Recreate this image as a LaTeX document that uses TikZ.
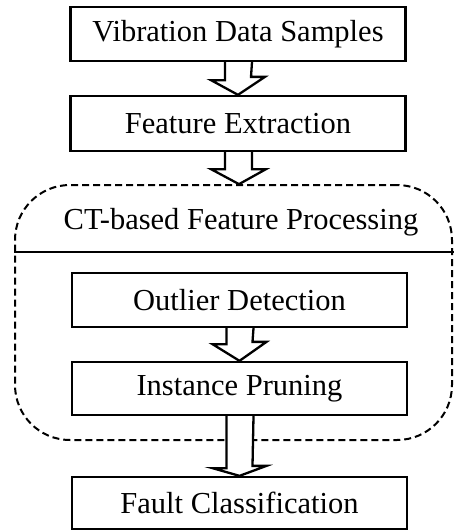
\documentclass[tikz,border=0pt]{standalone}
\usepackage{fontspec}
\setmainfont{Liberation Serif}
\usetikzlibrary{calc}
\begin{document}
\begin{tikzpicture}[x=1pt,y=-1pt,
  stepbox/.style={draw, line width=2.3pt, minimum width=335pt, inner sep=0pt,
    font=\fontsize{30.5}{36}\selectfont},
  blockarrow/.style={draw, line width=2.3pt, fill=white, line join=miter},
  groupbox/.style={draw, line width=2pt, dash pattern=on 7pt off 4pt,
    rounded corners=55pt, inner sep=0pt},
  sepline/.style={line width=1.6pt}]
\useasboundingbox (0,0) rectangle (453,530);
\node[groupbox, minimum width=437pt, minimum height=255pt] (ct) at (233.5,312.5) {};
\node[font=\fontsize{30.5}{36}\selectfont] (cttitle) at (241,222) {CT-based Feature Processing};
\draw[sepline] ($(ct.north west)+(0,68)$) -- ($(ct.north east)+(2,68)$);
\node[stepbox, minimum height=54pt] (vib) at (238,34) {Vibration Data Samples};
\node[stepbox, minimum height=55pt] (fe) at (238,123.5) {Feature Extraction};
\node[stepbox, minimum height=54pt] (od) at (239.5,300) {Outlier Detection};
\node[stepbox, minimum height=53pt] (ip) at (239.5,388.5) {Instance Pruning};
\node[stepbox, minimum height=52pt] (fc) at (239.5,503) {Fault Classification};
% block arrows
\coordinate (t1) at (fe.north);
\draw[blockarrow] ($(vib.south)+(-13,0)$) -- ++(0,18) -- ++(-14,0) -- (t1)
  -- ($(t1)+(27,-18)$) -- ++(-14,0) -- ($(vib.south)+(14,0)$);
\coordinate (t2) at (ct.north);
\draw[blockarrow] ($(fe.south)+(-13,0)$) -- ++(0,17) -- ++(-14,0) -- ($(fe.south)+(1,32)$)
  -- ($(fe.south)+(28,17)$) -- ++(-14,0) -- ($(fe.south)+(14,0)$);
\coordinate (t3) at (ip.north);
\draw[blockarrow] ($(od.south)+(-13,0)$) -- ++(0,16) -- ++(-14,0) -- (t3)
  -- ($(t3)+(27,-19)$) -- ++(-14,0) -- ($(od.south)+(14,0)$);
\coordinate (t4) at (fc.north);
\draw[blockarrow] ($(ip.south)+(-13,0)$) -- ++(0,52) -- ++(-14,0) -- (t4)
  -- ($(t4)+(27,-10)$) -- ++(-14,0) -- ($(ip.south)+(14,0)$);
\end{tikzpicture}
\end{document}
